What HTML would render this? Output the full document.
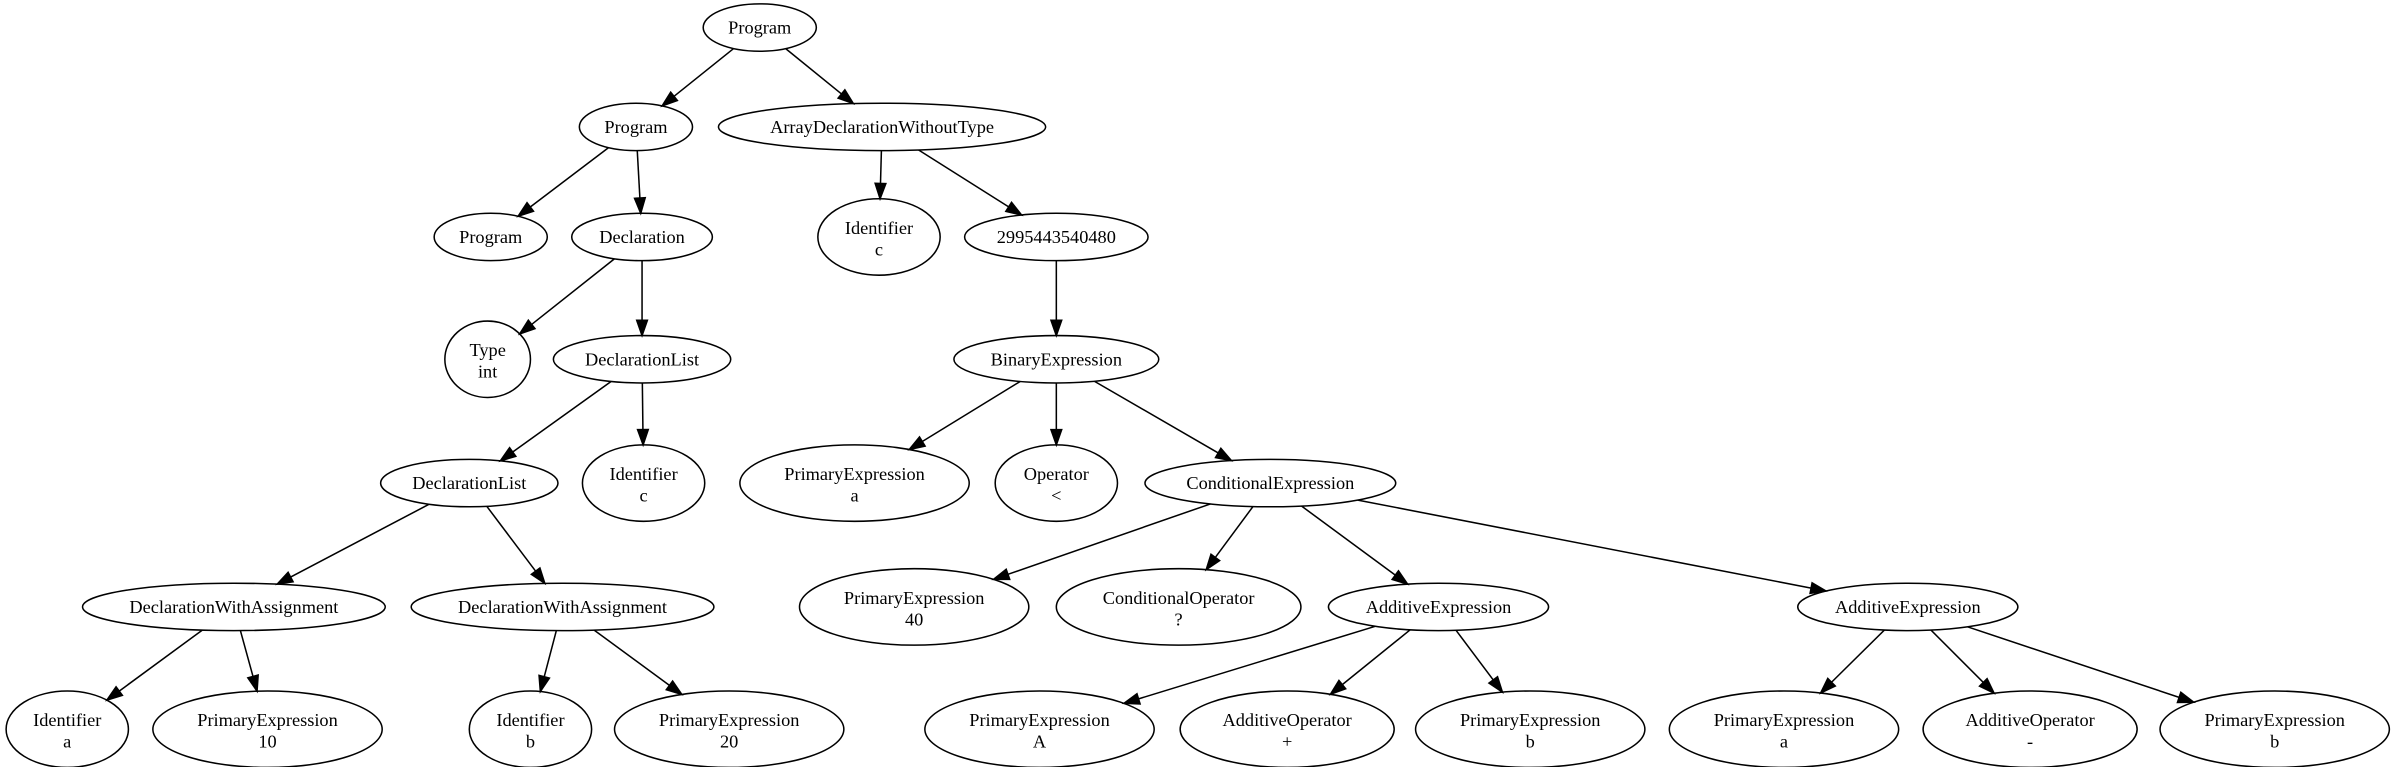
<!DOCTYPE html>
<html><head><meta charset="utf-8"><style>
html,body{margin:0;padding:0;background:#fff;}
svg{display:block;}
text{font-family:"Liberation Serif",serif;font-size:12px;fill:#000;}
</style></head><body>
<svg id="s" width="2397" height="767" viewBox="0 0 1568 501.7" xmlns="http://www.w3.org/2000/svg">
<rect width="1568" height="502" fill="#fff"/>
</svg>
<script>
var S=15.5,D=25;
var N={
P1:[497,18,37,S,["Program"]],
P2:[416,83,37,S,["Program"]],
AD:[577,83,107,S,["ArrayDeclarationWithoutType"]],
P3:[321,155,37,S,["Program"]],
DE:[420,155,46,S,["Declaration"]],
IC:[575,155,40,D,["Identifier","c"]],
NU:[691,155,60,S,["2995443540480"]],
TY:[319,235,28,D,["Type","int"]],
DL1:[420,235,58,S,["DeclarationList"]],
BE:[691,235,67,S,["BinaryExpression"]],
DL2:[307,316,58,S,["DeclarationList"]],
IC2:[421,316,40,D,["Identifier","c"]],
PEa:[559,316,75,D,["PrimaryExpression","a"]],
OP:[691,316,40,D,["Operator","<"]],
CE:[831,316,82,S,["ConditionalExpression"]],
PE40:[598,397,75,D,["PrimaryExpression","40"]],
CO:[771,397,80,D,["ConditionalOperator","?"]],
AE1:[941,397,72,S,["AdditiveExpression"]],
AE2:[1248,397,72,S,["AdditiveExpression"]],
DW1:[153,397,99,S,["DeclarationWithAssignment"]],
DW2:[368,397,99,S,["DeclarationWithAssignment"]],
IA:[44,477,40,D,["Identifier","a"]],
P10:[175,477,75,D,["PrimaryExpression","10"]],
IB:[347,477,40,D,["Identifier","b"]],
P20:[477,477,75,D,["PrimaryExpression","20"]],
PA:[680,477,75,D,["PrimaryExpression","A"]],
AOP:[842,477,70,D,["AdditiveOperator","+"]],
PB:[1001,477,75,D,["PrimaryExpression","b"]],
PA2:[1167,477,75,D,["PrimaryExpression","a"]],
AOM:[1328,477,70,D,["AdditiveOperator","-"]],
PB2:[1488,477,75,D,["PrimaryExpression","b"]]
};
var E=[["P1","P2"],["P1","AD"],["P2","P3"],["P2","DE"],["DE","TY"],["DE","DL1"],["DL1","DL2"],["DL1","IC2"],
["DL2","DW1"],["DL2","DW2"],["DW1","IA"],["DW1","P10"],["DW2","IB"],["DW2","P20"],["AD","IC"],["AD","NU"],
["NU","BE"],["BE","PEa"],["BE","OP"],["BE","CE"],["CE","PE40"],["CE","CO"],["CE","AE1"],["CE","AE2"],
["AE1","PA"],["AE1","AOP"],["AE1","PB"],["AE2","PA2"],["AE2","AOM"],["AE2","PB2"]];
var s=document.getElementById("s"),h="";
function clip(n,dx,dy){var t=1/Math.sqrt((dx/n[2])*(dx/n[2])+(dy/n[3])*(dy/n[3]));return [n[0]+dx*t,n[1]+dy*t];}
E.forEach(function(e){var a=N[e[0]],b=N[e[1]];var dx=b[0]-a[0],dy=b[1]-a[1];
var p=clip(a,dx,dy),q=clip(b,-dx,-dy);var L=Math.hypot(q[0]-p[0],q[1]-p[1]);var ux=(q[0]-p[0])/L,uy=(q[1]-p[1])/L;
var bx=q[0]-ux*10,by=q[1]-uy*10;
h+='<line x1="'+p[0]+'" y1="'+p[1]+'" x2="'+bx+'" y2="'+by+'" stroke="#000" stroke-width="1"/>';
h+='<polygon points="'+q[0]+','+q[1]+' '+(bx-uy*3.5)+','+(by+ux*3.5)+' '+(bx+uy*3.5)+','+(by-ux*3.5)+'" fill="#000" stroke="#000" stroke-width="1"/>';});
for(var k in N){var n=N[k];
h+='<ellipse cx="'+n[0]+'" cy="'+n[1]+'" rx="'+n[2]+'" ry="'+n[3]+'" fill="none" stroke="#000" stroke-width="1"/>';
if(n[4].length==1){h+='<text x="'+n[0]+'" y="'+(n[1]+4)+'" text-anchor="middle">'+n[4][0]+'</text>';}
else{h+='<text x="'+n[0]+'" y="'+(n[1]-2)+'" text-anchor="middle">'+n[4][0]+'</text>';
h+='<text x="'+n[0]+'" y="'+(n[1]+12)+'" text-anchor="middle">'+n[4][1].replace("<","&lt;")+'</text>';}}
s.insertAdjacentHTML("beforeend",h);
</script>
</body></html>
